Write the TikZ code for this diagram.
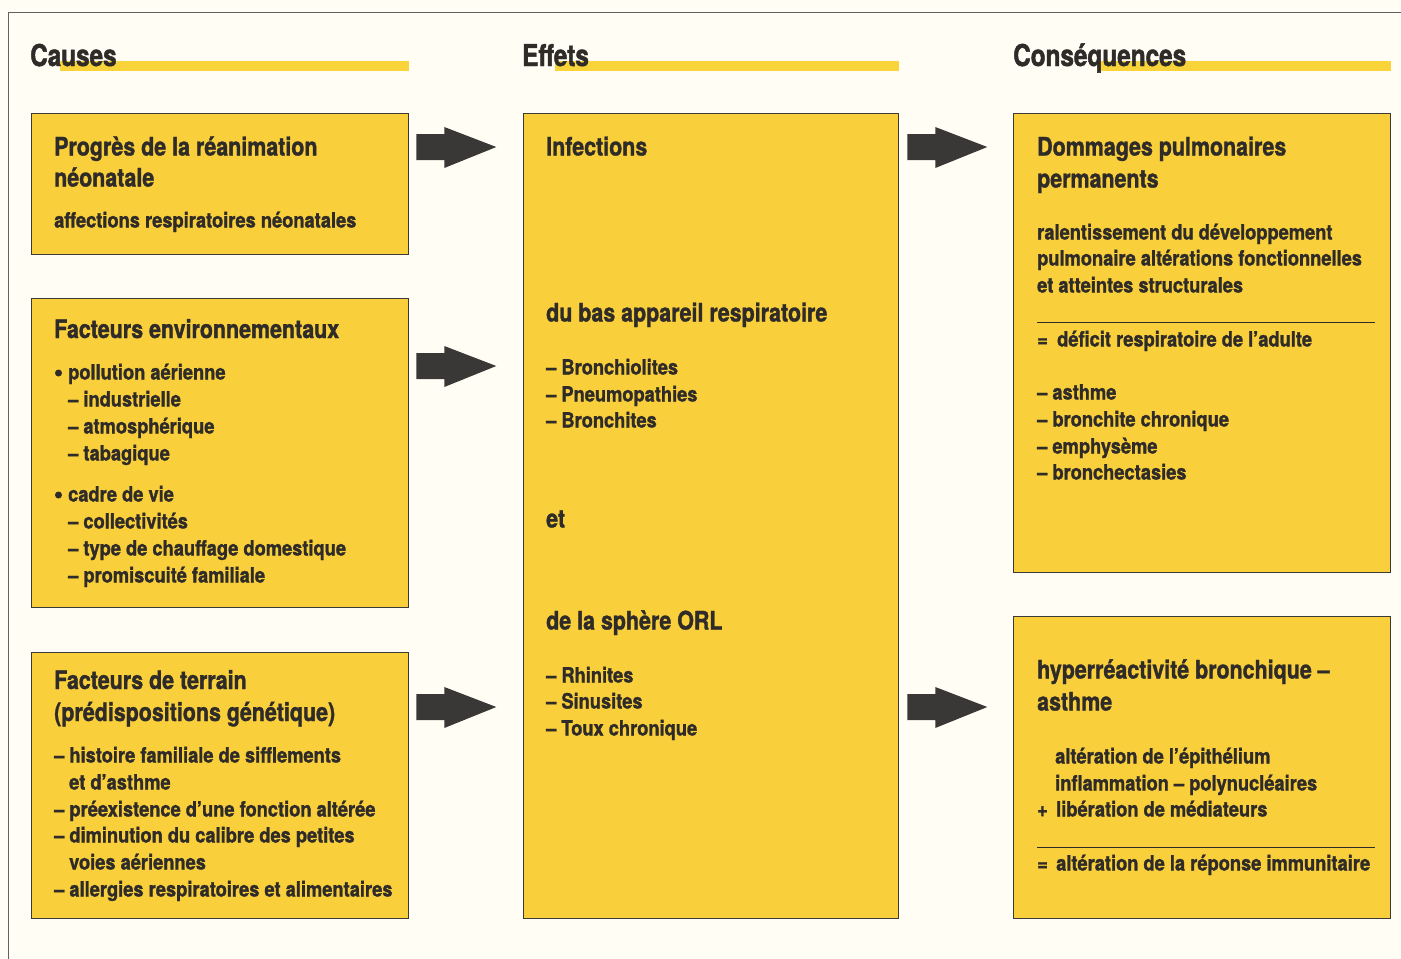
\documentclass[tikz,border=0pt]{standalone}
\usepackage{fontspec}
\setmainfont{TeX Gyre Heros}[FakeStretch=0.87, BoldFeatures={FakeBold=1.3}]
\newfontfamily\tifont{TeX Gyre Heros}[FakeStretch=0.84, BoldFeatures={FakeBold=1.3}]
\newfontfamily\hdfont{TeX Gyre Heros}[FakeStretch=0.81, BoldFeatures={FakeBold=1.5}]
\usetikzlibrary{calc}
\definecolor{bg}{HTML}{FFFDF4}
\definecolor{boxy}{HTML}{F9CF3C}
\definecolor{bary}{HTML}{F9D33A}
\definecolor{ink}{HTML}{2E2B28}
\definecolor{frame}{HTML}{3C3A38}
\definecolor{arrowc}{HTML}{3A3836}
\tikzset{
  box/.style={draw=frame, line width=1.3pt, fill=boxy, anchor=north west, inner sep=0pt},
  hd/.style={anchor=base west, inner sep=0pt, text=ink, font=\hdfont\bfseries\fontsize{30}{30}\selectfont},
  ti/.style={anchor=base west, inner sep=0pt, text=ink, font=\tifont\bfseries\fontsize{25.5}{25.5}\selectfont},
  tx/.style={anchor=base west, inner sep=0pt, text=ink, font=\bfseries\fontsize{21}{21}\selectfont},
  bul/.style={circle, fill=ink, inner sep=0pt, minimum size=7},
  blockarrow/.style={fill=arrowc},
  rulel/.style={draw=ink, line width=1pt},
}
\newcommand{\barrow}[1]{%
  \fill[blockarrow] ($(#1)+(0,-13)$) -- ++(28,0) -- ++(0,-7) -- ++(52,20) -- ++(-52,21) -- ++(0,-8) -- ++(-28,0) -- cycle;}
\begin{document}
\begin{tikzpicture}[x=1pt,y=-1pt]
\useasboundingbox (0,0) rectangle (1401,959);
\fill[bg] (0,0) rectangle (1401,959);
\draw[frame!80, line width=0.8pt] (8,959) -- (8,12) -- (1401,12);
% headers
\fill[bary] (60,61) rectangle (409,71);
\fill[bary] (555,61) rectangle (899,71);
\fill[bary] (1100,61) rectangle (1391,71);
\node[hd] (h1) at (30,66) {Causes};
\node[hd] (h2) at (522,66) {Effets};
\node[hd] (h3) at (1013,66) {Conséquences};
% boxes
\node[box, minimum width=377, minimum height=141] (c1) at (31,113) {};
\node[box, minimum width=377, minimum height=309] (c2) at (31,298) {};
\node[box, minimum width=377, minimum height=266] (c3) at (31,652) {};
\node[box, minimum width=375, minimum height=805] (e) at (523,113) {};
\node[box, minimum width=377, minimum height=459] (q1) at (1013,113) {};
\node[box, minimum width=377, minimum height=302] (q2) at (1013,616) {};
% arrows
\coordinate (a1) at ($(c1.east |- 0,147)+(7,0)$);
\coordinate (a2) at ($(c2.east |- 0,366)+(7,0)$);
\coordinate (a3) at ($(c3.east |- 0,707)+(7,0)$);
\coordinate (a4) at ($(e.east |- 0,147)+(8,0)$);
\coordinate (a5) at ($(e.east |- 0,707)+(8,0)$);
\barrow{a1}\barrow{a2}\barrow{a3}\barrow{a4}\barrow{a5}
% C1
\node[ti] (c1a) at (54,155.5) {Progrès de la réanimation};
\node[ti] (c1b) at (54,186.5) {néonatale};
\node[tx] (c1c) at (54,227.5) {affections respiratoires néonatales};
% C2
\node[ti] (c2a) at (54,338) {Facteurs environnementaux};
\node[bul] (c2b) at (58.5,373) {};
\node[tx] (c2c) at (68,379.5) {pollution aérienne};
\node[tx] (c2d) at (68,406.5) {– industrielle};
\node[tx] (c2e) at (68,433.5) {– atmosphérique};
\node[tx] (c2f) at (68,460.5) {– tabagique};
\node[bul] (c2g) at (58.5,495) {};
\node[tx] (c2h) at (68,501.5) {cadre de vie};
\node[tx] (c2i) at (68,528.5) {– collectivités};
\node[tx] (c2j) at (68,555.5) {– type de chauffage domestique};
\node[tx] (c2k) at (68,582.5) {– promiscuité familiale};
% C3
\node[ti] (c3a) at (54,689) {Facteurs de terrain};
\node[ti] (c3b) at (54,721) {(prédispositions génétique)};
\node[tx] (c3c) at (54,762.5) {– histoire familiale de sifflements};
\node[tx] (c3d) at (69,789.5) {et d’asthme};
\node[tx] (c3e) at (54,816.5) {– préexistence d’une fonction altérée};
\node[tx] (c3f) at (54,842.5) {– diminution du calibre des petites};
\node[tx] (c3g) at (69,869.5) {voies aériennes};
\node[tx] (c3h) at (54,896.5) {– allergies respiratoires et alimentaires};
% E
\node[ti] (e1) at (546,155.5) {Infections};
\node[ti] (e2) at (546,321.5) {du bas appareil respiratoire};
\node[tx] (e3) at (546,374.5) {– Bronchiolites};
\node[tx] (e4) at (546,401.5) {– Pneumopathies};
\node[tx] (e5) at (546,427.5) {– Bronchites};
\node[ti] (e6) at (546,527.5) {et};
\node[ti] (e7) at (546,629.5) {de la sphère ORL};
\node[tx] (e8) at (546,682.5) {– Rhinites};
\node[tx] (e9) at (546,708.5) {– Sinusites};
\node[tx] (e10) at (546,735.5) {– Toux chronique};
% Q1
\node[ti] (q1a) at (1037,155.5) {Dommages pulmonaires};
\node[ti] (q1b) at (1037,187.5) {permanents};
\node[tx] (q1c) at (1037,239.5) {ralentissement du développement};
\node[tx] (q1d) at (1037,265.5) {pulmonaire altérations fonctionnelles};
\node[tx] (q1e) at (1037,292.5) {et atteintes structurales};
\draw[rulel] (1037,322) -- (1375,322);
\node[tx] (q1f) at (1037,346.5) {=};
\node[tx] (q1g) at (1057,346.5) {déficit respiratoire de l’adulte};
\node[tx] (q1h) at (1037,399.5) {– asthme};
\node[tx] (q1i) at (1037,426.5) {– bronchite chronique};
\node[tx] (q1j) at (1037,453.5) {– emphysème};
\node[tx] (q1k) at (1037,479.5) {– bronchectasies};
% Q2
\node[ti] (q2a) at (1037,678.5) {hyperréactivité bronchique –};
\node[ti] (q2b) at (1037,710.5) {asthme};
\node[tx] (q2c) at (1055,763.5) {altération de l’épithélium};
\node[tx] (q2d) at (1055,790.5) {inflammation – polynucléaires};
\node[tx] (q2e) at (1037,816.5) {+};
\node[tx] (q2f) at (1056,816.5) {libération de médiateurs};
\draw[rulel] (1037,847) -- (1375,847);
\node[tx] (q2g) at (1037,870.5) {=};
\node[tx] (q2h) at (1056,870.5) {altération de la réponse immunitaire};
\end{tikzpicture}
\end{document}
